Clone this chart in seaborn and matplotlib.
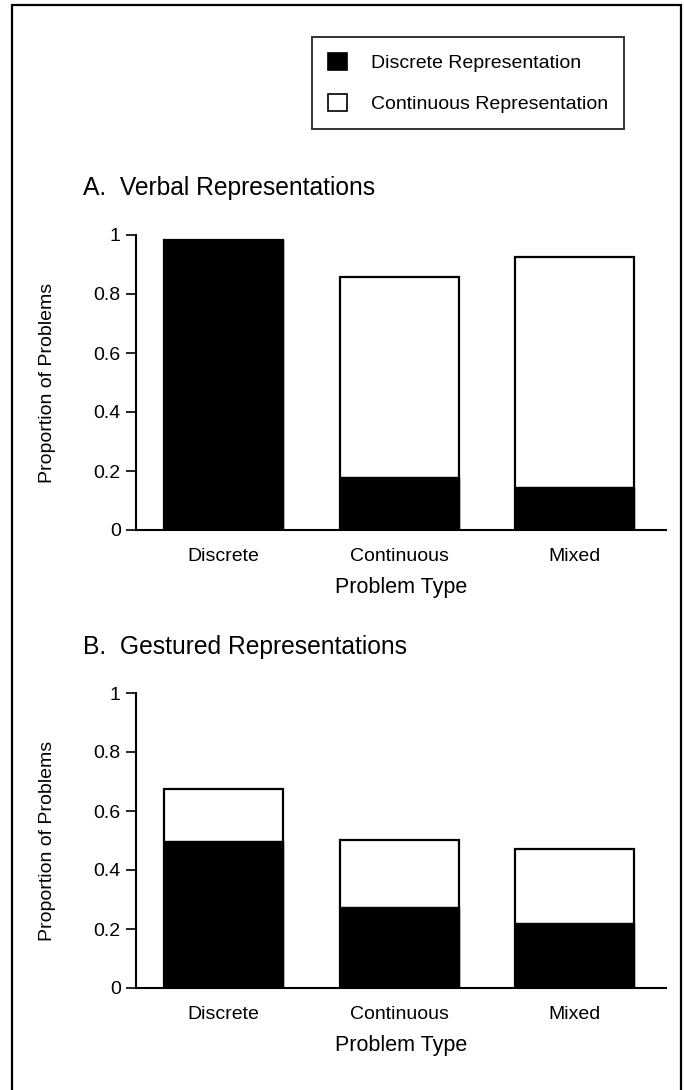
import matplotlib
matplotlib.use("Agg")
import matplotlib.pyplot as plt
from matplotlib.patches import Patch, Rectangle
import seaborn as sns
import pandas as pd

# ---- data ----
categories = ["Discrete", "Continuous", "Mixed"]
verbal_discrete = [0.983, 0.180, 0.146]
verbal_continuous = [0.0, 0.678, 0.779]
gestured_discrete = [0.498, 0.275, 0.220]
gestured_continuous = [0.177, 0.227, 0.251]
yticks = [0, 0.2, 0.4, 0.6, 0.8, 1]
ytick_labels = ["0", "0.2", "0.4", "0.6", "0.8", "1"]
panel_titles = ["A.  Verbal Representations", "B.  Gestured Representations"]
legend_labels = ["Discrete Representation", "Continuous Representation"]

sns.set_style("white")
plt.rcParams["font.family"] = ["Liberation Sans", "DejaVu Sans"]
plt.rcParams["text.color"] = "black"
plt.rcParams["axes.labelcolor"] = "black"
plt.rcParams["xtick.color"] = "black"
plt.rcParams["ytick.color"] = "black"

W, H = 684, 1090
fig = plt.figure(figsize=(W / 100, H / 100), dpi=100)

def fx(px):
    return px / W

def fy(py):
    return 1 - py / H

panels = [
    (verbal_discrete, verbal_continuous, 530),
    (gestured_discrete, gestured_continuous, 988),
]
title_y = [188, 647]

for i, (disc, cont, base_y) in enumerate(panels):
    ax = fig.add_axes([fx(136), fy(base_y), fx(666) - fx(136), 295 / H])
    df = pd.DataFrame({
        "type": categories,
        "discrete": disc,
        "total": [d + c for d, c in zip(disc, cont)],
    })
    sns.barplot(data=df, x="type", y="total", color="white", edgecolor="black",
                linewidth=1.6, width=0.68, ax=ax, saturation=1)
    sns.barplot(data=df, x="type", y="discrete", color="black", edgecolor="black",
                linewidth=1.0, width=0.68, ax=ax, saturation=1)
    ax.set_xlim(-0.5, 2.52)
    ax.set_ylim(0, 1)
    ax.set_yticks(yticks)
    ax.set_yticklabels(ytick_labels)
    for s in ["top", "right"]:
        ax.spines[s].set_visible(False)
    for s in ["left", "bottom"]:
        ax.spines[s].set_linewidth(1.5)
        ax.spines[s].set_color("black")
    ax.tick_params(axis="y", direction="out", length=7, width=1.2, color="black",
                   labelcolor="black", labelsize=14, pad=4, left=True)
    ax.tick_params(axis="x", length=0, labelsize=14, pad=13, labelcolor="black")
    ax.set_xlabel("Problem Type", fontsize=15.5, color="black")
    ax.xaxis.label.set_va("center")
    ax.xaxis.set_label_coords(0.5, -(587 - 530) / 295)
    ax.set_ylabel("Proportion of Problems", fontsize=14, color="black")
    ax.yaxis.label.set_va("center")
    ax.yaxis.set_label_coords((48 - 136) / 530, 0.5)
    ax.grid(False)
    fig.text(fx(83), fy(title_y[i]), panel_titles[i], fontsize=17.75,
             ha="left", va="center", color="black")

handles = [Patch(facecolor="black", edgecolor="black", linewidth=1.2),
           Patch(facecolor="white", edgecolor="black", linewidth=1.2)]
leg = fig.legend(handles, legend_labels, loc="upper left",
                 bbox_to_anchor=(fx(312), fy(37)), frameon=True, fancybox=False,
                 edgecolor="black", fontsize=14, handlelength=1.0, handleheight=1.0,
                 labelspacing=1.1, borderpad=0.82, handletextpad=1.2,
                 borderaxespad=0)
leg.get_frame().set_linewidth(1.4)
for t in leg.get_texts():
    t.set_color("black")

fig.patches.append(Rectangle((fx(12), -0.05), fx(681) - fx(12), fy(5) + 0.05,
                             transform=fig.transFigure, fill=False,
                             edgecolor="black", linewidth=1.6))

fig.savefig("out.png", dpi=100)
